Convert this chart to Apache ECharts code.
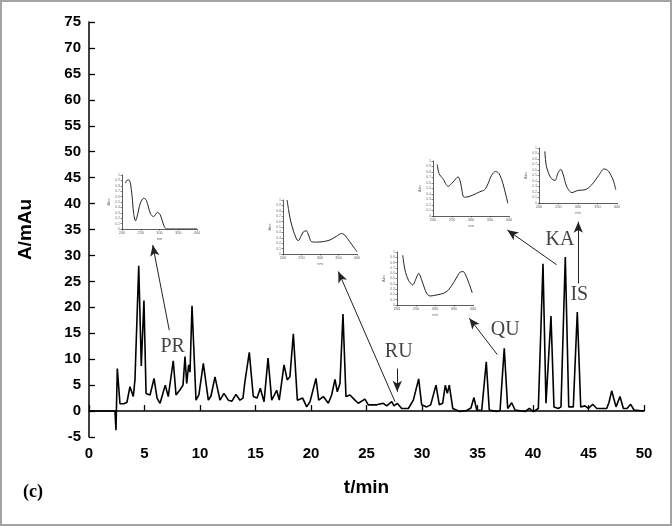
<!DOCTYPE html>
<html>
<head>
<meta charset="utf-8">
<script src="https://cdn.jsdelivr.net/npm/echarts@6/dist/echarts.min.js"></script>
<style>
  body { margin: 0; background: #fff; }
  #wrap { position: relative; width: 672px; height: 526px; }
  #chart { width: 672px; height: 526px; }
  #frame { position: absolute; left: 0; top: 0; width: 672px; height: 526px; box-sizing: border-box; border: 2px solid #a3a3a3; pointer-events: none; }
</style>
</head>
<body>
<div id="wrap">
  <div id="chart"></div>
  <div id="frame"></div>
</div>
<script>
// chromatogram: retention time (min) and absorbance (mAu)
const tMin = [0, 2.34, 2.43, 2.55, 2.79, 3.15, 3.42, 3.69, 3.99, 4.14, 4.48, 4.71, 4.95, 5.14, 5.5, 5.86, 6.13, 6.4, 6.87, 7.14,
  7.59, 7.84, 8.2, 8.47, 8.65, 8.8, 8.98, 9.1, 9.28, 9.64, 9.9, 10.3, 10.75, 10.99, 11.35, 11.8, 12.16, 12.55, 12.88, 13.24,
  13.6, 13.87, 14.05, 14.44, 14.8, 15.14, 15.43, 15.77, 16.13, 16.46, 16.91, 17.14, 17.57, 17.86, 18.1, 18.41, 18.77, 19.25, 19.61, 19.91,
  20.45, 20.69, 21.11, 21.56, 21.86, 22.16, 22.37, 22.61, 22.88, 23.15, 23.51, 23.96, 24.26, 24.86, 25.16, 25.92, 26.51, 26.82, 27.27, 27.48,
  27.77, 28.17, 28.77, 29.22, 29.7, 29.97, 30.42, 30.78, 31.26, 31.56, 31.86, 32.1, 32.28, 32.46, 32.77, 33.42, 34.02, 34.41, 34.68, 34.93,
  35.38, 35.79, 36.06, 36.73, 37.03, 37.41, 37.72, 38.08, 38.38, 39.28, 39.67, 40.03, 40.48, 40.9, 41.17, 41.35, 41.62, 41.89, 42.28, 42.52,
  42.91, 43.22, 43.63, 43.99, 44.3, 44.68, 44.98, 45.38, 45.74, 46.64, 46.85, 47.09, 47.48, 47.84, 48.14, 48.47, 48.8, 49.1, 50];
const absorb = [0, 0, -3.7, 8.2, 1.4, 1.4, 1.7, 4.7, 2.8, 6.0, 28.0, 8.7, 21.3, 3.4, 3.1, 6.3, 2.5, 1.5, 5.0, 2.8,
  9.7, 3.1, 4.1, 5.0, 10.5, 5.3, 8.9, 7.5, 20.3, 2.1, 3.1, 9.2, 2.1, 2.9, 6.6, 2.1, 3.4, 2.1, 1.9, 3.2,
  2.1, 2.5, 5.7, 11.3, 2.8, 2.5, 4.4, 1.8, 10.2, 2.1, 4.0, 2.1, 8.9, 6.0, 6.6, 14.9, 2.1, 2.5, 0.8, 1.8,
  6.3, 2.1, 2.8, 1.5, 3.1, 6.1, 3.7, 5.3, 18.7, 2.8, 3.1, 2.1, 1.5, 2.3, 1.2, 1.2, 1.5, 1.0, 1.8, 1.0,
  1.5, 0.5, 0.5, 2.1, 6.2, 1.2, 0.8, 1.2, 5.0, 1.2, 1.5, 5.0, 3.4, 5.0, 0.5, -0.1, 0.1, 0.6, 2.6, 0.2,
  0.1, 9.5, 0.2, -0.1, 0.1, 12.1, 0.5, 1.6, 0.2, -0.1, 0.5, -0.1, 0.5, 28.4, 1.5, 1.4, 18.3, 0.8, 0.5, 0.8,
  29.7, 0.8, 0.8, 19.1, 0.8, 1.0, 0.5, 1.3, 0.5, 0.5, 1.7, 3.9, 0.8, 2.8, 0.5, 0.5, 1.3, 0.2, 0];

// peak labels
const peakNames = ['PR', 'RU', 'QU', 'KA', 'IS'];
const peakLabelT = [7.54, 27.9, 37.5, 42.43, 44.17];
const peakLabelA = [12.4, 11.4, 15.6, 33.1, 22.4];

// arrows: start point and tip, in (t, A)
const arrowFromT = [7.23, 27.57, 27.77, 36.78, 42.13, 44.08];
const arrowFromA = [15.6, 1.8, 8.2, 10.9, 28.2, 24.6];
const arrowToT = [5.74, 22.46, 27.77, 34.26, 37.69, 44.08];
const arrowToA = [32.0, 26.9, 3.7, 17.9, 34.9, 36.5];

// UV spectra in the small insets (wavelength nm, relative absorbance)
const prWl = [209, 213, 218, 222, 227, 231, 236, 240, 249, 258, 265, 276, 284, 295, 302, 313, 320, 400];
const prAbs = [0.85, 0.9, 0.91, 0.86, 0.6, 0.29, 0.15, 0.22, 0.48, 0.57, 0.53, 0.28, 0.23, 0.31, 0.26, 0.04, 0, 0];
const ruWl = [211, 215, 220, 229, 238, 242, 248, 255, 263, 269, 277, 291, 309, 327, 345, 358, 367, 380, 394, 400];
const ruAbs = [1.0, 0.82, 0.63, 0.41, 0.26, 0.25, 0.32, 0.41, 0.43, 0.35, 0.23, 0.22, 0.23, 0.26, 0.33, 0.38, 0.35, 0.23, 0.1, 0.04];
const quWl = [215, 221, 230, 241, 252, 257, 265, 278, 287, 305, 322, 335, 353, 366, 374, 384, 398];
const quAbs = [0.94, 0.66, 0.47, 0.38, 0.53, 0.6, 0.47, 0.22, 0.17, 0.19, 0.22, 0.28, 0.47, 0.62, 0.63, 0.51, 0.23];
const kaWl = [211, 216, 226, 240, 253, 266, 272, 282, 292, 305, 323, 336, 345, 354, 365, 374, 384, 397];
const kaAbs = [0.94, 0.77, 0.68, 0.54, 0.62, 0.71, 0.62, 0.34, 0.35, 0.38, 0.44, 0.48, 0.59, 0.74, 0.81, 0.77, 0.59, 0.23];
const isWl = [215, 219, 230, 241, 249, 256, 262, 271, 284, 301, 318, 335, 353, 367, 378, 390, 397];
const isAbs = [0.94, 0.67, 0.46, 0.41, 0.55, 0.61, 0.52, 0.3, 0.19, 0.23, 0.24, 0.33, 0.5, 0.62, 0.58, 0.42, 0.24];

const insetWl = [prWl, ruWl, quWl, kaWl, isWl];
const insetAbs = [prAbs, ruAbs, quAbs, kaAbs, isAbs];
// inset boxes in pixels: left, top, width, height
const insetBox = [[122, 175, 75, 54], [283, 200, 74, 54], [397, 252, 76, 53], [433, 161, 76, 55], [539, 148, 78, 55]];

const chart = echarts.init(document.getElementById('chart'));

const boldFont = { fontFamily: 'Liberation Sans', fontWeight: 'bold', color: '#000' };

const grids = [{ left: 89, right: 28, top: 22, bottom: 89 }];
const xAxes = [{
  type: 'value', min: 0, max: 50, interval: 5, gridIndex: 0,
  name: 't/min', nameLocation: 'middle', nameGap: 41,
  nameTextStyle: Object.assign({ fontSize: 19 }, boldFont),
  axisLine: { show: true, lineStyle: { color: '#000', width: 1.5 } },
  axisTick: { inside: true, length: 6, lineStyle: { color: '#000', width: 1.3 } },
  axisLabel: Object.assign({ fontSize: 15, margin: 9 }, boldFont),
  splitLine: { show: false }
}];
const yAxes = [{
  type: 'value', min: -5, max: 75, interval: 5, gridIndex: 0,
  name: 'A/mAu', nameLocation: 'middle', nameGap: 54,
  nameTextStyle: Object.assign({ fontSize: 19 }, boldFont),
  axisLine: { show: true, onZero: false, lineStyle: { color: '#000', width: 1.5 } },
  axisTick: { inside: true, length: 6, lineStyle: { color: '#000', width: 1.3 } },
  axisLabel: Object.assign({ fontSize: 15, margin: 8 }, boldFont),
  splitLine: { show: false }
}];

const series = [{
  type: 'line', xAxisIndex: 0, yAxisIndex: 0,
  data: tMin.map((t, i) => [t, absorb[i]]),
  showSymbol: false, silent: true,
  lineStyle: { color: '#000', width: 1.6 },
  markLine: {
    silent: true, animation: false,
    symbol: ['none', 'arrow'], symbolSize: [7, 11],
    label: { show: false },
    lineStyle: { color: '#222', width: 1, type: 'solid' },
    data: arrowFromT.map((t, i) => [{ coord: [t, arrowFromA[i]] }, { coord: [arrowToT[i], arrowToA[i]] }])
  }
}, {
  type: 'scatter', xAxisIndex: 0, yAxisIndex: 0, silent: true,
  symbolSize: 1, itemStyle: { color: 'transparent' },
  data: peakNames.map((n, i) => [peakLabelT[i], peakLabelA[i], n]),
  label: {
    show: true, position: 'inside', formatter: p => p.data[2],
    fontFamily: 'Liberation Serif', fontSize: 20, color: '#111'
  }
}];

insetBox.forEach((b, k) => {
  const idx = k + 1;
  grids.push({ left: b[0], top: b[1], width: b[2], height: b[3] });
  const thin = { show: true, lineStyle: { color: '#333', width: 0.8 } };
  xAxes.push({
    type: 'value', gridIndex: idx, min: 200, max: 400, interval: 50,
    name: 'nm', nameLocation: 'middle', nameGap: 8, nameTextStyle: { fontSize: 4, color: '#666' },
    axisLine: thin, axisTick: { show: true, length: 1.5, lineStyle: { color: '#333', width: 0.6 } },
    axisLabel: { fontSize: 4, color: '#666', margin: 2 }, splitLine: { show: false }
  });
  yAxes.push({
    type: 'value', gridIndex: idx, min: 0, max: 1, interval: 0.1,
    name: 'Abs', nameLocation: 'middle', nameGap: 11, nameTextStyle: { fontSize: 4, color: '#666' },
    axisLine: thin, axisTick: { show: true, length: 1.5, lineStyle: { color: '#333', width: 0.6 } },
    axisLabel: { fontSize: 3.5, color: '#777', margin: 2 }, splitLine: { show: false }
  });
  series.push({
    type: 'line', xAxisIndex: idx, yAxisIndex: idx, silent: true,
    data: insetWl[k].map((w, i) => [w, insetAbs[k][i]]),
    showSymbol: false, smooth: 0.3,
    lineStyle: { color: '#222', width: 1 }
  });
});

chart.setOption({
  animation: false,
  backgroundColor: '#fff',
  title: {
    text: '(c)', left: 18, top: 478,
    textStyle: { fontFamily: 'Liberation Serif', fontWeight: 'bold', fontSize: 18, color: '#000' }
  },
  grid: grids,
  xAxis: xAxes,
  yAxis: yAxes,
  series: series
});
</script>
</body>
</html>
